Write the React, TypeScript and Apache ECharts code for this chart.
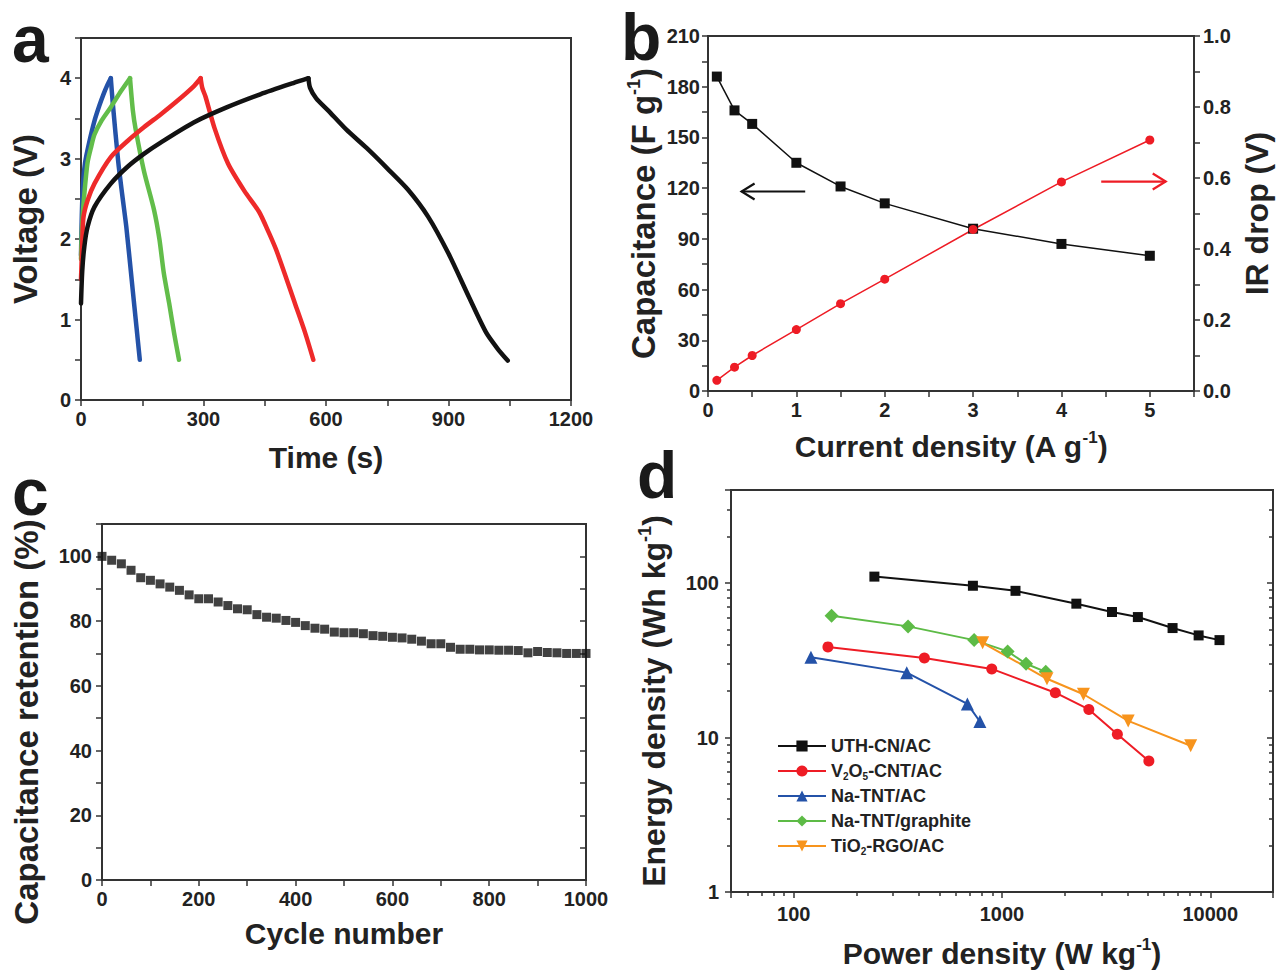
import React, { useEffect, useRef } from 'react';
import * as echarts from 'echarts';

const FONT = "'Liberation Sans', Arial, Helvetica, sans-serif";
const AXIS_COLOR = '#333333';
const TEXT_COLOR = '#222222';

// ---------- Panel a: charge / discharge curves [time (s), voltage (V)] ----------
const blueCharge = [[0, 1.8], [2, 2.3], [5, 2.7], [10, 2.95], [20, 3.2], [33, 3.47], [45, 3.66], [55, 3.8], [65, 3.92], [73, 4.0]];
const blueDischarge = [[73, 4.0], [78, 3.68], [91, 2.97], [101, 2.55], [111, 2.15], [126, 1.4], [136, 0.9], [144, 0.5]];
const greenCharge = [[0, 1.75], [3, 2.2], [8, 2.55], [16, 2.95], [25, 3.15], [33, 3.3], [50, 3.47], [73, 3.64], [98, 3.84], [120, 4.0]];
const greenDischarge = [[120, 4.0], [127, 3.6], [134, 3.36], [154, 2.85], [179, 2.36], [192, 2.0], [203, 1.57], [216, 1.2], [228, 0.83], [240, 0.5]];
const redCharge = [[0, 1.5], [3, 1.95], [6, 2.27], [16, 2.48], [33, 2.69], [73, 3.02], [114, 3.22], [154, 3.39], [195, 3.55], [236, 3.72], [276, 3.9], [293, 4.0]];
const redDischarge = [[293, 4.0], [297, 3.88], [305, 3.77], [327, 3.38], [360, 2.94], [400, 2.6], [436, 2.34], [460, 2.08], [480, 1.84], [524, 1.2], [548, 0.85], [569, 0.5]];
const blackCharge = [[0, 1.2], [3, 1.6], [8, 1.9], [16, 2.15], [33, 2.4], [73, 2.69], [114, 2.9], [154, 3.06], [195, 3.2], [276, 3.45], [358, 3.64], [439, 3.8], [520, 3.94], [557, 4.0]];
const blackDischarge = [[557, 4.0], [561, 3.88], [576, 3.75], [605, 3.6], [650, 3.36], [700, 3.13], [750, 2.88], [800, 2.62], [850, 2.28], [900, 1.82], [950, 1.28], [992, 0.84], [1020, 0.64], [1045, 0.49]];

// ---------- Panel b ----------
const currentDensity = [0.1, 0.3, 0.5, 1, 1.5, 2, 3, 4, 5];
const capacitance = [186, 166, 158, 135, 121, 111, 96, 87, 80];
const irDrop = [0.03, 0.067, 0.1, 0.173, 0.246, 0.315, 0.455, 0.589, 0.707];
// arrows: [xStart, yStart, xEnd, yEnd]
const capacitanceArrow = [[1.1, 118, 0.38, 118]];
const irDropArrow = [[4.45, 0.59, 5.18, 0.59]];

// ---------- Panel c ----------
const cycleNumber = [
  0, 20, 40, 60, 80, 100, 120, 140, 160, 180, 200, 220, 240, 260, 280, 300, 320, 340, 360, 380, 400,
  420, 440, 460, 480, 500, 520, 540, 560, 580, 600, 620, 640, 660, 680, 700, 720, 740, 760, 780, 800,
  820, 840, 860, 880, 900, 920, 940, 960, 980, 1000,
];
const retention = [
  100, 98.8, 97.7, 95.7, 93.4, 92.6, 91.5, 90.5, 89.5, 88.1, 86.9, 86.9, 85.9, 84.8, 83.8, 83.5, 82, 81.2, 80.9, 80.2, 79.6,
  78.6, 77.8, 77.5, 76.6, 76.4, 76.4, 76.1, 75.5, 75.3, 75, 74.8, 74.4, 73.8, 73, 73, 71.9, 71.3, 71.3, 71.1, 71.1,
  71, 71, 70.9, 70.2, 70.6, 70.3, 70.2, 70, 70, 70,
];

// ---------- Panel d: Ragone plot [power (W/kg), energy (Wh/kg)] ----------
const uthPower = [244, 725, 1161, 2275, 3373, 4490, 6590, 8790, 11070];
const uthEnergy = [110, 96, 89, 73.5, 64.9, 60.2, 51.1, 45.8, 42.7];
const v2o5Power = [146, 424, 893, 1803, 2612, 3580, 5070];
const v2o5Energy = [38.6, 32.7, 27.8, 19.5, 15.2, 10.5, 7.04];
const naTntAcPower = [121, 349, 682, 783];
const naTntAcEnergy = [33.1, 26.3, 16.5, 12.7];
const naTntGraphitePower = [152, 354, 735, 1064, 1305, 1622];
const naTntGraphiteEnergy = [61.4, 52.4, 42.7, 36.1, 30, 26.6];
const tio2Power = [807, 1644, 2461, 4035, 8050];
const tio2Energy = [41, 24, 19.05, 12.8, 8.85];

const legendNames = ['UTH-CN/AC', 'V2O5-CNT/AC', 'Na-TNT/AC', 'Na-TNT/graphite', 'TiO2-RGO/AC'];

const zip = (a: number[], b: number[]) => a.map((v, i) => [v, b[i]]);

const axisLine = { show: true, onZero: false, lineStyle: { color: AXIS_COLOR, width: 2 } };
const tick = (inside = false) => ({ show: true, inside, length: 6, lineStyle: { color: AXIS_COLOR, width: 1.5 } });
const label = (formatter: any, margin = 9, show = true) => ({
  show, formatter, margin, fontFamily: FONT, fontWeight: 'bold', fontSize: 20, color: TEXT_COLOR,
});
const nameStyle = (size: number, padding: number[] = [0, 0, 0, 0]) => ({
  fontFamily: FONT, fontWeight: 'bold', fontSize: size, color: TEXT_COLOR, lineHeight: size + 4, padding,
  rich: {
    sup: { fontFamily: FONT, fontWeight: 'bold', fontSize: Math.round(size * 0.56), color: TEXT_COLOR, lineHeight: Math.round(size * 0.53), verticalAlign: 'top' },
  },
});
const noSplit = { show: false };
const minor = { show: true, splitNumber: 9, length: 4, lineStyle: { color: AXIS_COLOR, width: 1.5 } };

const decadeLabel = (v: number) => {
  const r = Math.round(v);
  return [1, 10, 100, 1000, 10000].indexOf(r) >= 0 ? String(r) : '';
};

function arrowRenderer(color: string) {
  return (params: any, api: any) => {
    const p1 = api.coord([api.value(0), api.value(1)]);
    const p2 = api.coord([api.value(2), api.value(3)]);
    const dx = p2[0] - p1[0];
    const dy = p2[1] - p1[1];
    const len = Math.sqrt(dx * dx + dy * dy) || 1;
    const ux = dx / len, uy = dy / len;
    const nx = -uy, ny = ux;
    const hl = 13, hw = 8;
    return {
      type: 'group',
      children: [
        { type: 'line', shape: { x1: p1[0], y1: p1[1], x2: p2[0], y2: p2[1] }, style: { stroke: color, lineWidth: 2.2 } },
        {
          type: 'polyline',
          shape: {
            points: [
              [p2[0] - ux * hl + nx * hw, p2[1] - uy * hl + ny * hw],
              [p2[0], p2[1]],
              [p2[0] - ux * hl - nx * hw, p2[1] - uy * hl - ny * hw],
            ],
          },
          style: { stroke: color, fill: 'none', lineWidth: 2.2 },
        },
      ],
    };
  };
}

function buildOption(): any {
  const gridBase = { show: true, borderColor: AXIS_COLOR, borderWidth: 2, backgroundColor: 'transparent', containLabel: false, outerBoundsMode: 'none' };
  const curves = [
    { d: blueCharge, c: '#2452a8' }, { d: blueDischarge, c: '#2452a8' },
    { d: greenCharge, c: '#62bd4a' }, { d: greenDischarge, c: '#62bd4a' },
    { d: redCharge, c: '#ee2a2a' }, { d: redDischarge, c: '#ee2a2a' },
    { d: blackCharge, c: '#121212' }, { d: blackDischarge, c: '#121212' },
  ];
  return {
    animation: false,
    backgroundColor: '#ffffff',
    textStyle: { fontFamily: FONT },
    grid: [
      { ...gridBase, left: 81, top: 38, width: 490, height: 362 },
      { ...gridBase, left: 708, top: 36, width: 486, height: 355 },
      { ...gridBase, left: 102, top: 524, width: 484, height: 356 },
      { ...gridBase, left: 731, top: 490, width: 542, height: 402 },
    ],
    xAxis: [
      {
        type: 'value', gridIndex: 0, min: 0, max: 1200, interval: 150,
        axisLine, axisTick: tick(), splitLine: noSplit,
        axisLabel: label((v: number) => (v % 300 === 0 ? String(v) : '')),
        name: 'Time (s)', nameLocation: 'middle', nameGap: 40, nameTextStyle: nameStyle(30),
      },
      {
        type: 'value', gridIndex: 1, min: 0, max: 5.5, interval: 0.5,
        axisLine, axisTick: tick(), splitLine: noSplit,
        axisLabel: label((v: number) => (Number.isInteger(v) && v <= 5 ? String(v) : '')),
        name: 'Current density (A g{sup|-1})', nameLocation: 'middle', nameGap: 38, nameTextStyle: nameStyle(30),
      },
      {
        type: 'value', gridIndex: 2, min: 0, max: 1000, interval: 100,
        axisLine, axisTick: tick(), splitLine: noSplit,
        axisLabel: label((v: number) => (v % 200 === 0 ? String(v) : '')),
        name: 'Cycle number', nameLocation: 'middle', nameGap: 36, nameTextStyle: nameStyle(30),
      },
      {
        type: 'log', logBase: 10, gridIndex: 3, min: 50, max: 20000,
        axisLine, axisTick: tick(), splitLine: noSplit,
        minorTick: minor, minorSplitLine: { show: false },
        axisLabel: label(decadeLabel, 12),
        name: 'Power density (W kg{sup|-1})', nameLocation: 'middle', nameGap: 44, nameTextStyle: nameStyle(30),
      },
    ],
    yAxis: [
      {
        type: 'value', gridIndex: 0, min: 0, max: 4.5, interval: 0.5,
        axisLine, axisTick: tick(), splitLine: noSplit,
        axisLabel: label((v: number) => (Number.isInteger(v) && v <= 4 ? String(v) : ''), 10),
        name: 'Voltage (V)', nameLocation: 'middle', nameGap: 37, nameRotate: 90, nameTextStyle: nameStyle(33),
      },
      {
        type: 'value', gridIndex: 1, min: 0, max: 210, interval: 15,
        axisLine, axisTick: tick(), splitLine: noSplit,
        axisLabel: label((v: number) => (v % 30 === 0 ? String(v) : ''), 8),
        name: 'Capacitance (F g{sup|-1})', nameLocation: 'middle', nameGap: 46, nameRotate: 90, nameTextStyle: nameStyle(33),
      },
      {
        type: 'value', gridIndex: 1, position: 'right', min: 0, max: 1.0, interval: 0.1,
        axisLine, axisTick: tick(), splitLine: noSplit,
        axisLabel: label((v: number) => {
          const k = Math.round(v * 10);
          return k % 2 === 0 ? (k / 10).toFixed(1) : '';
        }, 9),
        name: 'IR drop (V)', nameLocation: 'middle', nameGap: 45, nameRotate: 90, nameTextStyle: nameStyle(32),
      },
      {
        type: 'value', gridIndex: 2, min: 0, max: 110, interval: 10,
        axisLine, axisTick: tick(), splitLine: noSplit,
        axisLabel: label((v: number) => (v % 20 === 0 && v <= 100 ? String(v) : ''), 10),
        name: 'Capacitance retention (%)', nameLocation: 'middle', nameGap: 57, nameRotate: 90, nameTextStyle: nameStyle(33, [0, 40, 0, 0]),
      },
      {
        type: 'value', gridIndex: 2, position: 'right', min: 0, max: 110, interval: 10,
        axisLine, axisTick: tick(true), splitLine: noSplit, axisLabel: { show: false },
      },
      {
        type: 'log', logBase: 10, gridIndex: 3, min: 1, max: 400,
        axisLine, axisTick: tick(), splitLine: noSplit,
        minorTick: minor, minorSplitLine: { show: false },
        axisLabel: label(decadeLabel, 12),
        name: 'Energy density (Wh kg{sup|-1})', nameLocation: 'middle', nameGap: 59, nameRotate: 90, nameTextStyle: nameStyle(32, [0, 20, 0, 0]),
      },
      {
        type: 'log', logBase: 10, gridIndex: 3, position: 'right', min: 1, max: 400,
        axisLine, axisTick: tick(true), splitLine: noSplit,
        minorTick: minor, minorSplitLine: { show: false },
        axisLabel: { show: false },
      },
    ],
    legend: {
      show: true,
      data: legendNames,
      orient: 'vertical',
      left: 772, top: 731,
      itemWidth: 48, itemHeight: 14, itemGap: 5,
      textStyle: {
        fontFamily: FONT, fontWeight: 'bold', fontSize: 18, color: TEXT_COLOR, lineHeight: 20,
        rich: { sub: { fontFamily: FONT, fontWeight: 'bold', fontSize: 10, color: TEXT_COLOR, lineHeight: 10, verticalAlign: 'bottom' } },
      },
      formatter: (name: string) => {
        if (name === 'V2O5-CNT/AC') return 'V{sub|2}O{sub|5}-CNT/AC';
        if (name === 'TiO2-RGO/AC') return 'TiO{sub|2}-RGO/AC';
        return name;
      },
    },
    graphic: [
      { type: 'text', x: 12, y: 39, style: { text: 'a', fontSize: 66, fontWeight: 'bold', fontFamily: FONT, fill: '#1a1a1a', verticalAlign: 'middle' } },
      { type: 'text', x: 621, y: 37, style: { text: 'b', fontSize: 66, fontWeight: 'bold', fontFamily: FONT, fill: '#1a1a1a', verticalAlign: 'middle' } },
      { type: 'text', x: 12, y: 492, style: { text: 'c', fontSize: 66, fontWeight: 'bold', fontFamily: FONT, fill: '#1a1a1a', verticalAlign: 'middle' } },
      { type: 'text', x: 637, y: 475, style: { text: 'd', fontSize: 66, fontWeight: 'bold', fontFamily: FONT, fill: '#1a1a1a', verticalAlign: 'middle' } },
    ],
    series: [
      // panel a
      ...curves.map((s) => ({
        type: 'line', xAxisIndex: 0, yAxisIndex: 0, data: s.d, showSymbol: false, symbol: 'none',
        smooth: 0.25,
        lineStyle: { color: s.c, width: 4.5, cap: 'round', join: 'round' }, silent: true,
      })),
      // panel b
      {
        type: 'line', xAxisIndex: 1, yAxisIndex: 1, data: zip(currentDensity, capacitance),
        symbol: 'rect', symbolSize: 10, itemStyle: { color: '#111111' }, lineStyle: { color: '#111111', width: 1.5 },
      },
      {
        type: 'line', xAxisIndex: 1, yAxisIndex: 2, data: zip(currentDensity, irDrop),
        symbol: 'circle', symbolSize: 9, itemStyle: { color: '#ee1c25' }, lineStyle: { color: '#ee1c25', width: 1.5 },
      },
      {
        type: 'custom', xAxisIndex: 1, yAxisIndex: 1, data: capacitanceArrow, renderItem: arrowRenderer('#111111'),
        encode: { x: [0, 2], y: [1, 3] }, clip: false, silent: true,
      },
      {
        type: 'custom', xAxisIndex: 1, yAxisIndex: 2, data: irDropArrow, renderItem: arrowRenderer('#ee1c25'),
        encode: { x: [0, 2], y: [1, 3] }, clip: false, silent: true,
      },
      // panel c
      {
        type: 'scatter', xAxisIndex: 2, yAxisIndex: 3, data: zip(cycleNumber, retention),
        symbol: 'rect', symbolSize: 9, itemStyle: { color: '#111111' },
      },
      // panel d
      {
        name: 'UTH-CN/AC', type: 'line', xAxisIndex: 3, yAxisIndex: 5, data: zip(uthPower, uthEnergy),
        symbol: 'rect', symbolSize: 10, itemStyle: { color: '#111111' }, lineStyle: { color: '#111111', width: 2 },
      },
      {
        name: 'V2O5-CNT/AC', type: 'line', xAxisIndex: 3, yAxisIndex: 5, data: zip(v2o5Power, v2o5Energy),
        symbol: 'circle', symbolSize: 11, itemStyle: { color: '#ee1c25' }, lineStyle: { color: '#ee1c25', width: 2 },
      },
      {
        name: 'Na-TNT/AC', type: 'line', xAxisIndex: 3, yAxisIndex: 5, data: zip(naTntAcPower, naTntAcEnergy),
        symbol: 'triangle', symbolSize: 13, itemStyle: { color: '#2452a8' }, lineStyle: { color: '#2452a8', width: 2 },
      },
      {
        name: 'Na-TNT/graphite', type: 'line', xAxisIndex: 3, yAxisIndex: 5, data: zip(naTntGraphitePower, naTntGraphiteEnergy),
        symbol: 'diamond', symbolSize: 14, itemStyle: { color: '#5dbb46' }, lineStyle: { color: '#5dbb46', width: 2 },
      },
      {
        name: 'TiO2-RGO/AC', type: 'line', xAxisIndex: 3, yAxisIndex: 5, data: zip(tio2Power, tio2Energy),
        symbol: 'triangle', symbolRotate: 180, symbolSize: 13, itemStyle: { color: '#f7941d' }, lineStyle: { color: '#f7941d', width: 2 },
      },
    ],
  };
}

export default function App() {
  const ref = useRef<HTMLDivElement>(null);
  useEffect(() => {
    if (!ref.current) return;
    const chart = echarts.init(ref.current, null, { renderer: 'svg' });
    chart.setOption(buildOption());
    return () => chart.dispose();
  }, []);
  return (
    <div
      ref={ref}
      style={{ position: 'absolute', left: 0, top: 0, width: 1276, height: 972, background: '#ffffff' }}
    />
  );
}
